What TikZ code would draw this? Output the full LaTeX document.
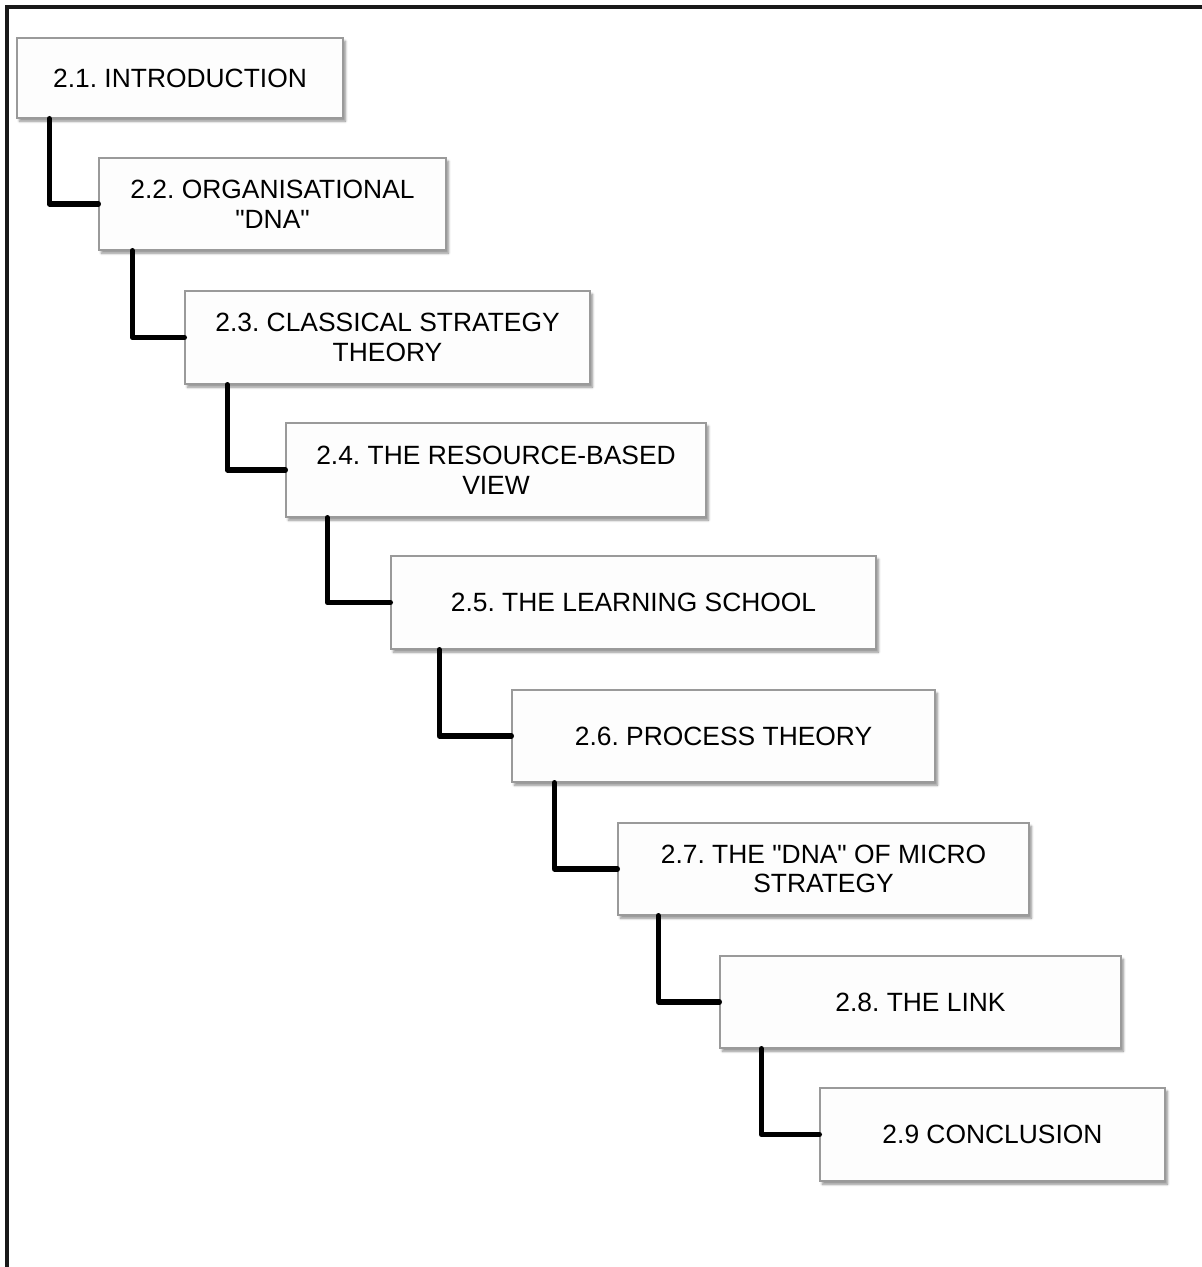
\documentclass[tikz,border=0pt]{standalone}
\usepackage{fontspec}
\setmainfont{Liberation Sans}
\usetikzlibrary{calc,shadows.blur}

\definecolor{boxedge}{HTML}{9A9A9A}
\definecolor{boxfill}{HTML}{FDFDFD}

\tikzset{
  secbox/.style={draw=boxedge, line width=0.6pt, fill=boxfill, inner sep=0pt,
    align=center, font=\fontsize{13.2}{14.8}\selectfont\frenchspacing,
    blur shadow={shadow xshift=1.2pt, shadow yshift=-1.6pt,
      shadow blur steps=6, shadow blur radius=1.2pt, shadow opacity=45}},
  size/.style 2 args={minimum width=#1*0.5pt, minimum height=#2*0.5pt},
  link/.style={line width=2.6pt, line join=round, line cap=round},
  frameline/.style={line width=1.6pt, color=black!90}
}
\newcommand{\dq}{\textquotedbl}

\begin{document}
\begin{tikzpicture}[x=0.5pt, y=-0.5pt]
  \useasboundingbox (0,0) rectangle (1201,1267);

  % open frame: top and left edges
  \draw[frameline] (7,1268) -- (7,7) -- (1202,7);

  % section boxes, stepping down to the right
  \node[secbox, size={326}{80}]  (s1) at (180,78)      {2.1. INTRODUCTION};
  \node[secbox, size={347}{92}]  (s2) at (272.5,204)   {2.2. ORGANISATIONAL\\\dq DNA\dq};
  \node[secbox, size={405}{93}]  (s3) at (387.5,337.5) {2.3. CLASSICAL STRATEGY\\THEORY};
  \node[secbox, size={420}{94}]  (s4) at (496,470)     {2.4. THE RESOURCE-BASED\\VIEW};
  \node[secbox, size={485}{93}]  (s5) at (633.5,602.5) {2.5. THE LEARNING SCHOOL};
  \node[secbox, size={423}{92}]  (s6) at (723.5,736)   {2.6. PROCESS THEORY};
  \node[secbox, size={411}{92}]  (s7) at (823.5,869)   {2.7. THE \dq DNA\dq{} OF MICRO\\STRATEGY};
  \node[secbox, size={401}{92}]  (s8) at (920.5,1002)  {2.8. THE LINK};
  \node[secbox, size={345}{93}]  (s9) at (992.5,1134.5) {2.9 CONCLUSION};

  % elbow connectors from each box to the next
  \draw[link] ($(s1.south west)+(33,0)$) |- (s2.west);
  \draw[link] ($(s2.south west)+(34,0)$) |- (s3.west);
  \draw[link] ($(s3.south west)+(43,0)$) |- (s4.west);
  \draw[link] ($(s4.south west)+(42,0)$) |- (s5.west);
  \draw[link] ($(s5.south west)+(49,0)$) |- (s6.west);
  \draw[link] ($(s6.south west)+(43,0)$) |- (s7.west);
  \draw[link] ($(s7.south west)+(41,0)$) |- (s8.west);
  \draw[link] ($(s8.south west)+(42,0)$) |- (s9.west);
\end{tikzpicture}
\end{document}
